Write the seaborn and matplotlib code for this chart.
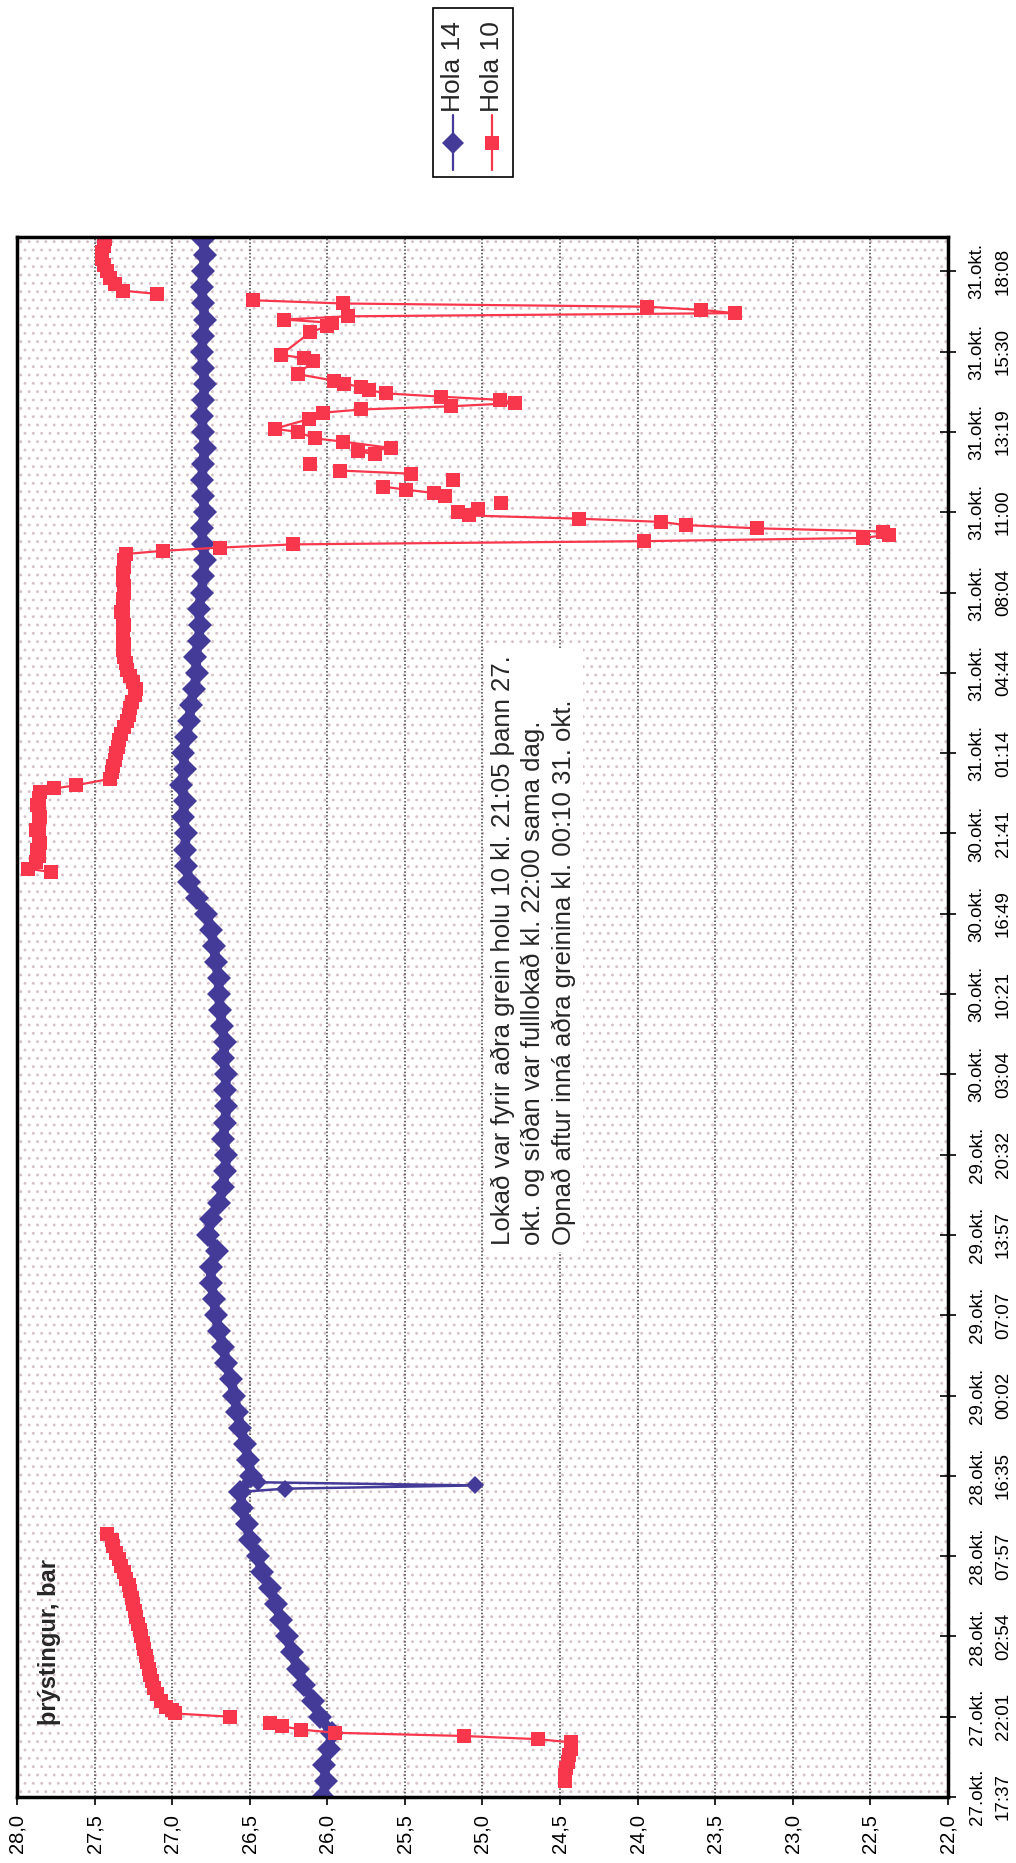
import numpy as np
import pandas as pd
import matplotlib
matplotlib.use("Agg")
import matplotlib.pyplot as plt
import seaborn as sns
from matplotlib.patches import Rectangle
from matplotlib.lines import Line2D

nan = np.nan

# ---------------- data ----------------
# time axis is a category axis: 25 samples per labelled interval
time_labels = ["27.okt.\n17:37", "27.okt.\n22:01", "28.okt.\n02:54", "28.okt.\n07:57",
               "28.okt.\n16:35", "29.okt.\n00:02", "29.okt.\n07:07", "29.okt.\n13:57",
               "29.okt.\n20:32", "30.okt.\n03:04", "30.okt.\n10:21", "30.okt.\n16:49",
               "30.okt.\n21:41", "31.okt.\n01:14", "31.okt.\n04:44", "31.okt.\n08:04",
               "31.okt.\n11:00", "31.okt.\n13:19", "31.okt.\n15:30", "31.okt.\n18:08"]
pressure_ticks = [28.0, 27.5, 27.0, 26.5, 26.0, 25.5, 25.0, 24.5, 24.0, 23.5, 23.0, 22.5, 22.0]
pressure_labels = ["28,0", "27,5", "27,0", "26,5", "26,0", "25,5", "25,0",
                   "24,5", "24,0", "23,5", "23,0", "22,5", "22,0"]

# Hola 14 (every 5th sample)
h14_idx = list(range(0, 490, 5))
h14_val = [26.03, 26.01, 26.02, 25.99, 25.97, 26.05, 26.09, 26.15, 26.19, 26.23,
           26.26, 26.30, 26.33, 26.37, 26.42, 26.45, 26.50, 26.52, 26.55, 26.56,
           26.49, 26.51, 26.53, 26.56, 26.58, 26.60, 26.62, 26.65, 26.67, 26.70,
           26.72, 26.73, 26.75, 26.75, 26.71, 26.77, 26.75, 26.70, 26.67, 26.66,
           26.65, 26.67, 26.66, 26.65, 26.66, 26.65, 26.67, 26.66, 26.68, 26.69,
           26.70, 26.70, 26.72, 26.73, 26.75, 26.78, 26.84, 26.89, 26.91, 26.92,
           26.91, 26.93, 26.92, 26.94, 26.92, 26.93, 26.91, 26.89, 26.88, 26.86,
           26.84, 26.85, 26.83, 26.82, 26.83, 26.81, 26.80, 26.79, 26.80, 26.81,
           26.79, 26.80, 26.81, 26.80, 26.79, 26.80, 26.81, 26.80, 26.79, 26.80,
           26.81, 26.80, 26.79, 26.80, 26.81, 26.80, 26.79, 26.80]
h14_spike_idx = [96, 97, 98]
h14_spike_val = [26.27, 25.05, 26.45]

# Hola 10, segment 27.-28. okt
h10_a_idx = [5, 7, 9, 11, 13, 15, 17, 18, 19, 20, 21, 22, 23, 24, 25, 26, 27,
             28, 30, 32, 34, 36, 38, 40, 42, 44, 46, 48, 50, 52, 54, 56, 58, 60,
             62, 64, 66, 68, 70, 72, 74, 76, 78, 80, 82]
h10_a_val = [24.47, 24.47, 24.46, 24.45, 24.44, 24.43, 24.43,
             24.64, 25.12, 25.95, 26.17, 26.29, 26.37, nan, 26.63, 26.98, 27.00,
             27.04, 27.07, 27.10, 27.12, 27.13, 27.14, 27.15, 27.16, 27.17, 27.18,
             27.19, 27.20, 27.21, 27.22, 27.23, 27.24, 27.25, 27.26, 27.27, 27.28,
             27.30, 27.31, 27.33, 27.34, 27.36, 27.38, 27.39, 27.42]

# Hola 10, segment 30.-31. okt (closed branch, reopening and oscillations)
h10_b_idx = [288, 289, 291, 293, 295, 297, 299, 301, 303, 305, 307, 309, 311, 313, 314, 315,
             317, 319, 321, 323, 325, 327, 329, 331, 333, 335, 337, 339, 341, 343, 345, 347,
             349, 351, 353, 355, 357, 359, 361, 363, 365, 367, 369, 371, 373, 375, 377,
             379, 381, 383, 385, 387,
             388, 389, 390, 391, 392, 393, 394, 395, 396, 397, 398, 399, 400, 401, 402,
             403, 404, 405, 406, 407, 408, 409, 410, 411, 412, 413, 414, 415, 416,
             418, 419, 420, 422, 423, 425, 426, 429, 431, 432, 433, 434, 435, 436, 437,
             438, 439, 440, 441, 443, 447, 448, 449, 456, 458, 459, 460, 461, 462, 463,
             464, 465, 466]
h10_b_val = [27.78, 27.93, 27.88, 27.86, 27.87, 27.85, 27.86, 27.88, 27.86, 27.85, 27.86,
             27.87, 27.86, 27.85, 27.76, 27.62,
             27.40, 27.39, 27.38, 27.37, 27.36, 27.35, 27.34, 27.33, 27.31, 27.29, 27.28,
             27.27, 27.26, 27.24, 27.23, 27.25, 27.27, 27.29, 27.30, 27.31, 27.32, 27.31,
             27.32, 27.32, 27.31, 27.32, 27.33, 27.32, 27.32, 27.31, 27.31,
             27.32, 27.32, 27.31, 27.31, 27.30,
             27.06, 26.69, 26.22, 23.96, 22.55, 22.38, 22.42, 23.23, 23.69, 23.85, 24.38,
             25.09, 25.16, 25.03, nan,
             24.88, nan, 25.24, 25.31, 25.49, 25.64, nan, 25.19, nan, 25.46, 25.92, nan,
             26.11, nan,
             25.69, 25.80, 25.59, 25.90, 26.08, 26.19, 26.34, 26.12, 26.03, 25.78, 25.20,
             24.79, 24.89, 25.27, 25.62,
             25.73, 25.78, 25.89, 25.96, 26.19, 26.09, 26.15, 26.30, 26.11, 26.00, 25.97,
             26.28, 25.87, 23.37, 23.59,
             23.94, 25.90, 26.48]

# Hola 10, last segment 31. okt
h10_c_idx = [468, 469, 471, 473, 475, 477, 479, 481, 483, 485, 487]
h10_c_val = [27.10, 27.32, 27.37, 27.40, 27.42, 27.44, 27.45, 27.45, 27.44, 27.43, 27.43]

note_text = ("Lokað var fyrir aðra grein holu 10 kl. 21:05 þann 27.\n"
             "okt. og síðan var fulllokað kl. 22:00 sama dag.\n"
             "Opnað aftur inná aðra greinina kl. 00:10 31. okt.")

# ---------------- style ----------------
BLUE = "#443a98"
RED = "#f8374d"
W, H = 1016, 1863

sns.set_theme(style="white")
plt.rcParams["font.family"] = ["Liberation Sans", "DejaVu Sans"]
plt.rcParams["hatch.linewidth"] = 0.9

fig = plt.figure(figsize=(W / 100, H / 100), dpi=100)
fig.patch.set_facecolor("white")
ax = fig.add_axes([17 / W, (H - 1797) / H, (948 - 17) / W, (1797 - 237) / H])
ax.set_facecolor("white")
ax.add_patch(Rectangle((0, 0), 1, 1, transform=ax.transAxes, facecolor="white",
                       edgecolor="#d6c3ca", linewidth=0, hatch="..", zorder=0.2))


def segments(idx, val):
    df = pd.DataFrame({"t": idx, "p": val})
    grp = df["p"].isna().cumsum()
    out = []
    for _, g in df.groupby(grp):
        g = g.dropna()
        if len(g):
            out.append(g)
    return out


# Hola 14: dense band of samples ...
base = pd.DataFrame({"t": h14_idx, "p": h14_val})
sns.lineplot(data=base, x="p", y="t", orient="y", sort=False, estimator=None, color=BLUE,
             linewidth=7, marker="D", markersize=12, markeredgewidth=0, ax=ax,
             legend=False, zorder=3)
# ... plus the short dip at 28. okt, drawn with the thin series line
b = pd.DataFrame({"t": h14_idx + h14_spike_idx, "p": h14_val + h14_spike_val}).sort_values("t")
dip = b[(b["t"] >= 95) & (b["t"] <= 100)]
sns.lineplot(data=dip, x="p", y="t", orient="y", sort=False, estimator=None, color=BLUE,
             linewidth=1.8, marker="D", markersize=9, markeredgewidth=0, ax=ax,
             legend=False, zorder=3.1)

# Hola 10
for idx, val in [(h10_a_idx, h10_a_val), (h10_b_idx, h10_b_val), (h10_c_idx, h10_c_val)]:
    for seg in segments(idx, val):
        sns.lineplot(data=seg, x="p", y="t", orient="y", sort=False, estimator=None,
                     color=RED, linewidth=1.6, marker="s", markersize=10.5,
                     markeredgewidth=0, ax=ax, legend=False, zorder=4)

ax.set_xlim(28, 22)
ax.set_ylim(0, 485.7)
ax.set_xlabel("")
ax.set_ylabel("")

ax.set_xticks(pressure_ticks)
ax.set_xticklabels(pressure_labels, rotation=90, fontsize=14.5, ha="center", va="top")
ax.tick_params(axis="x", direction="out", length=6, width=1.2, pad=6, bottom=True,
               colors="black")

ax.yaxis.tick_right()
ax.set_yticks(list(range(0, 476, 25)))
ax.set_yticklabels(time_labels, rotation=90, fontsize=13.5, ha="left", va="center",
                   multialignment="center", linespacing=1.7)
ax.tick_params(axis="y", direction="inout", length=12, width=1.2, pad=9, right=True,
               left=False, colors="black")

for s in ax.spines.values():
    s.set_visible(True)
    s.set_color("black")
    s.set_linewidth(2.5)
    s.set_zorder(6)

ax.grid(False)
ax.xaxis.grid(True, linestyle=(0, (1, 1.3)), color="#3c3c3c", linewidth=1.1, zorder=0.5)
ax.set_axisbelow(True)

ax.text(0.0344, 0.0994, "þrýstingur, bar", transform=ax.transAxes, rotation=90,
        ha="center", va="center", fontsize=17, fontweight="bold", zorder=7)

ax.text(0.509, 0.354, note_text, transform=ax.transAxes, rotation=90, ha="left",
        va="bottom", fontsize=18.5, linespacing=1.3, multialignment="left", zorder=8,
        bbox=dict(facecolor="white", edgecolor="none", pad=5))

# legend (rotated like the chart)
T = fig.transFigure
fig.add_artist(Rectangle((433 / W, 1 - 177 / H), 80 / W, 169 / H, transform=T,
                         facecolor="white", edgecolor="black", linewidth=1.2))
for xc, col, mk, ms, lab in [(453, BLUE, "D", 11, "Hola 14"), (492, RED, "s", 10, "Hola 10")]:
    fig.add_artist(Line2D([xc / W, xc / W], [1 - 170 / H, 1 - 115 / H], transform=T,
                          color=col, linewidth=1.6))
    fig.add_artist(Line2D([xc / W], [1 - 143 / H], transform=T, color=col, marker=mk,
                          markersize=ms, markeredgewidth=0, linestyle="none"))
    fig.text(xc / W, 1 - 112 / H, lab, rotation=90, ha="center", va="bottom", fontsize=19)

fig.savefig("out.png", dpi=100)
